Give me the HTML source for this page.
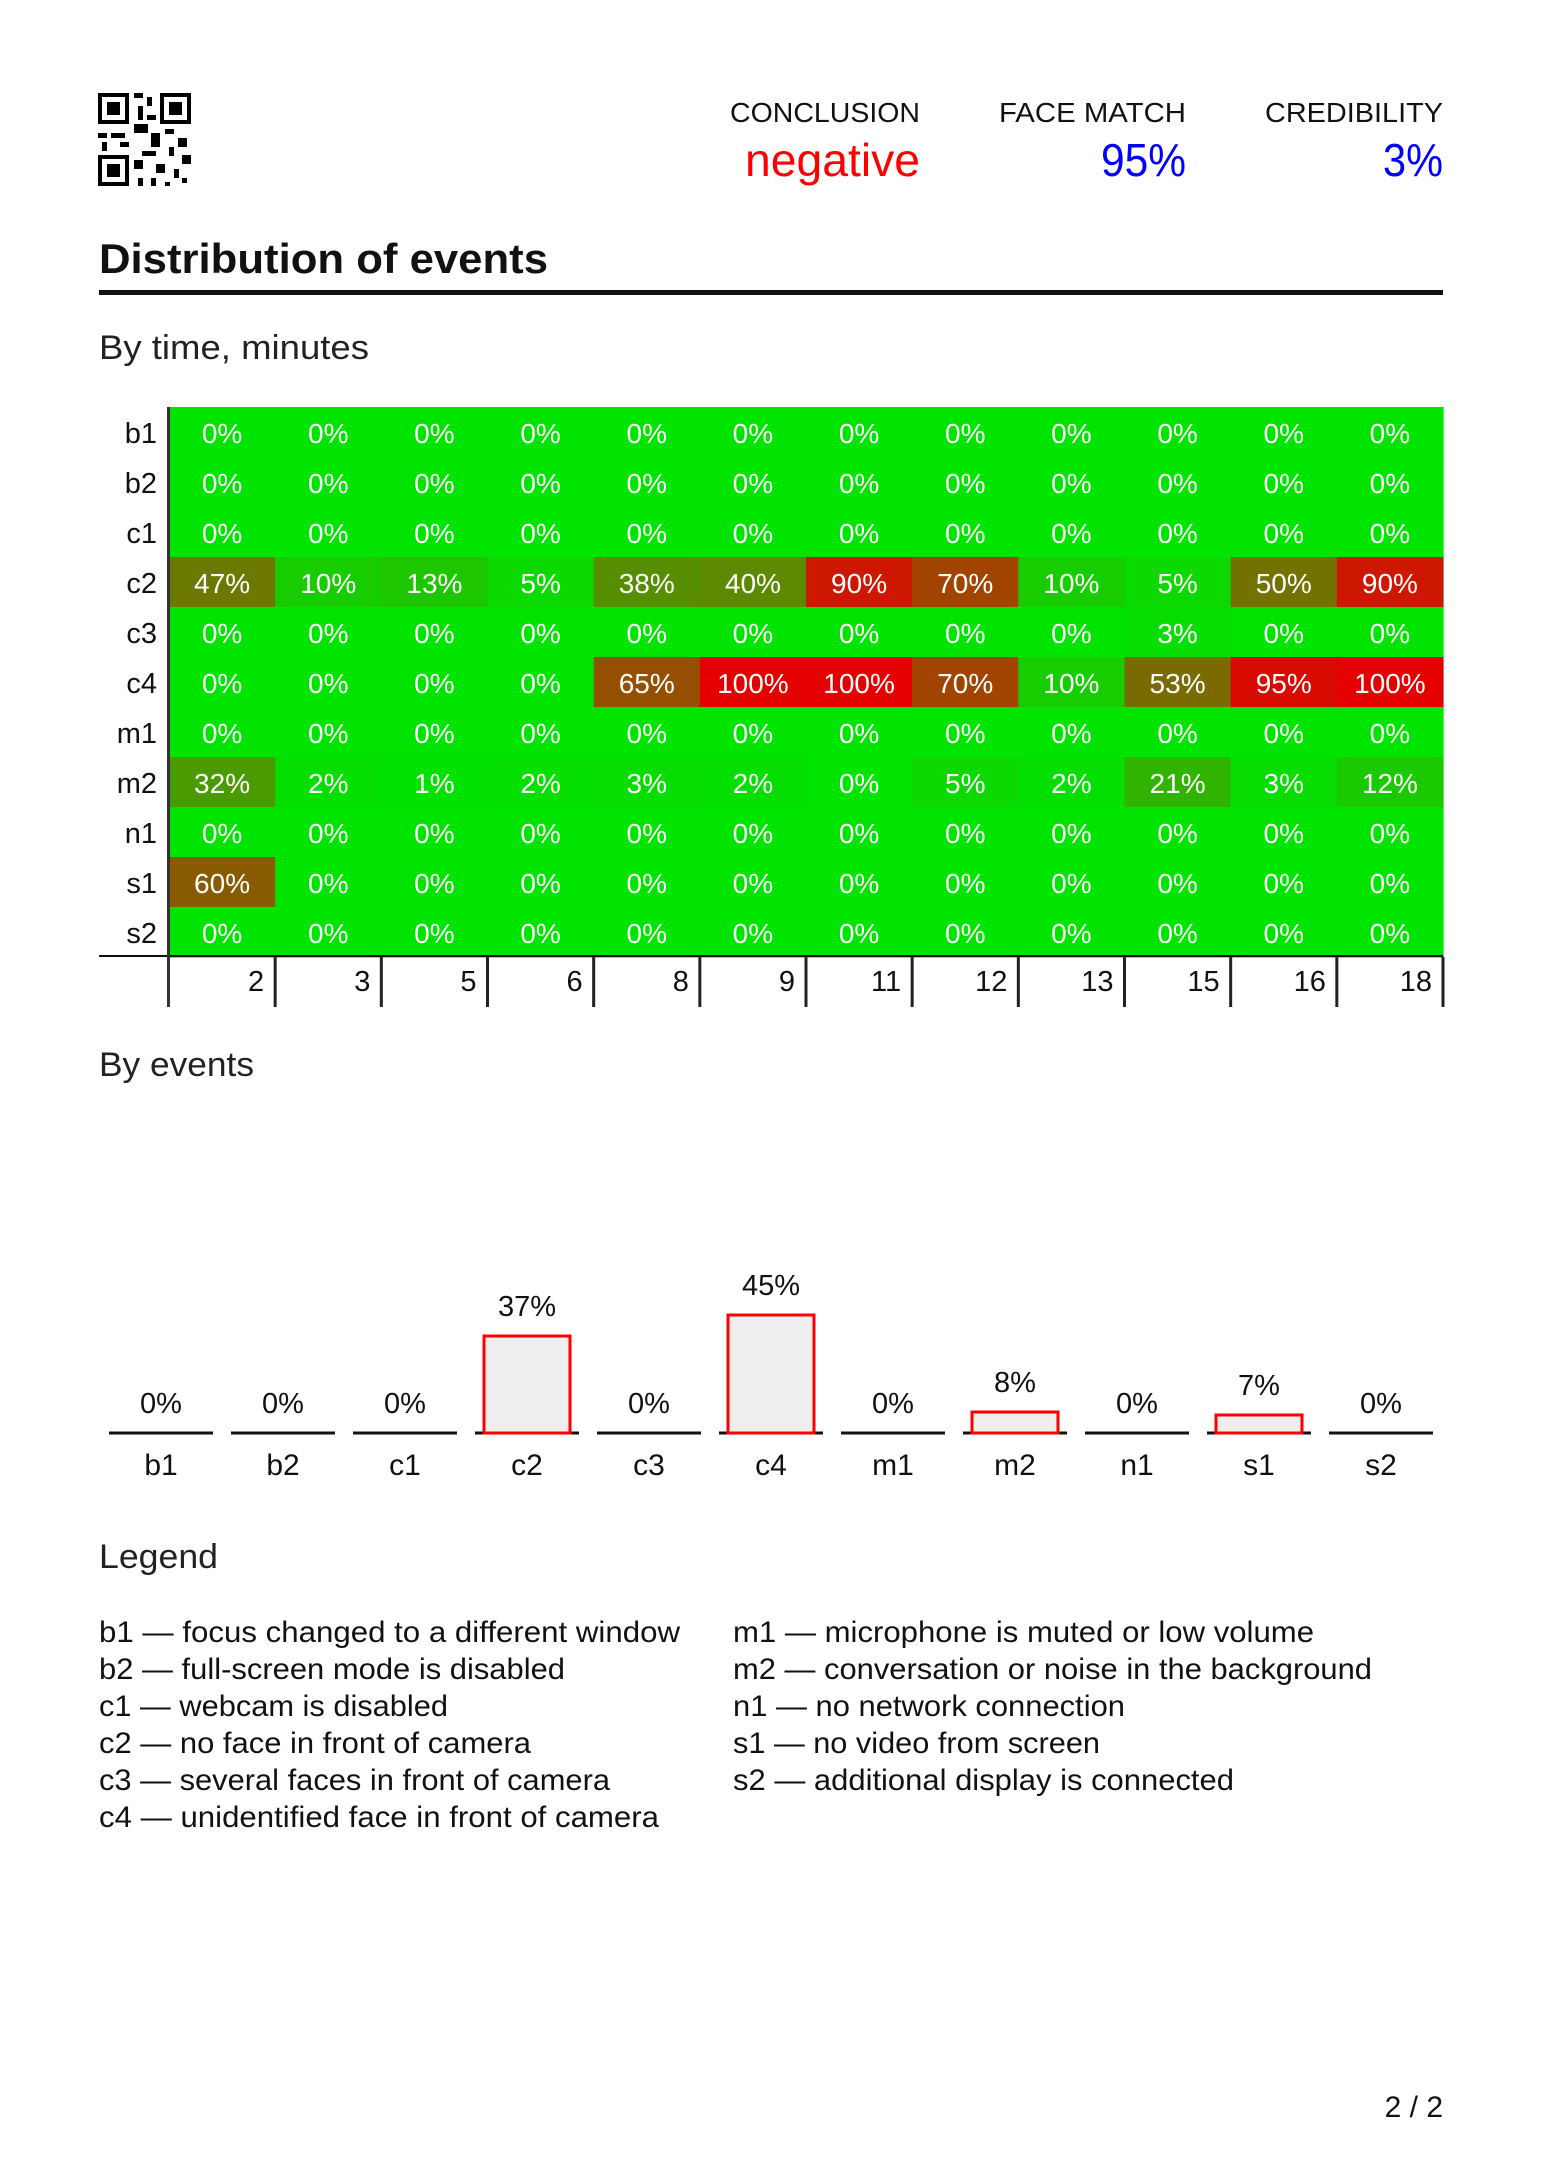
<!DOCTYPE html>
<html><head><meta charset="utf-8"><style>
html,body{margin:0;padding:0;background:#fff;}
svg{display:block;}
text{font-family:"Liberation Sans",sans-serif;}
</style></head><body>
<svg width="1542" height="2178" viewBox="0 0 1542 2178" xmlns="http://www.w3.org/2000/svg">
<rect width="1542" height="2178" fill="#fff"/>
<!-- QR -->
<g fill="#000">
<rect x="98" y="93" width="31" height="31"/><rect x="102" y="97" width="23" height="23" fill="#fff"/><rect x="107" y="102" width="13" height="13"/>
<rect x="160" y="93" width="31" height="31"/><rect x="164" y="97" width="23" height="23" fill="#fff"/><rect x="169" y="102" width="13" height="13"/>
<rect x="98" y="155" width="31" height="31"/><rect x="102" y="159" width="23" height="23" fill="#fff"/><rect x="107" y="164" width="13" height="13"/>
<rect x="134" y="93" width="9" height="5"/><rect x="147" y="97" width="5" height="9"/><rect x="138" y="106" width="5" height="14"/><rect x="147" y="115" width="9" height="5"/>
<rect x="134" y="124" width="14" height="9"/><rect x="98" y="133" width="9" height="5"/><rect x="111" y="133" width="14" height="5"/><rect x="120" y="142" width="9" height="5"/>
<rect x="102" y="142" width="5" height="9"/><rect x="151" y="133" width="9" height="14"/><rect x="165" y="129" width="9" height="5"/><rect x="178" y="138" width="9" height="9"/>
<rect x="169" y="147" width="5" height="9"/><rect x="182" y="155" width="9" height="9"/><rect x="142" y="151" width="14" height="5"/><rect x="134" y="160" width="9" height="9"/>
<rect x="156" y="164" width="9" height="9"/><rect x="174" y="169" width="5" height="9"/><rect x="138" y="178" width="5" height="8"/><rect x="151" y="178" width="5" height="8"/><rect x="165" y="182" width="5" height="4"/><rect x="182" y="178" width="5" height="5"/>
</g>
<!-- header -->
<g font-size="28" fill="#111" text-anchor="end">
<text x="920" y="122" textLength="190" lengthAdjust="spacingAndGlyphs">CONCLUSION</text>
<text x="1186" y="122" textLength="187" lengthAdjust="spacingAndGlyphs">FACE MATCH</text>
<text x="1443" y="122" textLength="178" lengthAdjust="spacingAndGlyphs">CREDIBILITY</text>
</g>
<g font-size="46" text-anchor="end">
<text x="920" y="176" fill="#ff0000" textLength="175" lengthAdjust="spacingAndGlyphs">negative</text>
<text x="1186" y="176" fill="#0000ff" textLength="85" lengthAdjust="spacingAndGlyphs">95%</text>
<text x="1443" y="176" fill="#0000ff" textLength="60" lengthAdjust="spacingAndGlyphs">3%</text>
</g>
<text x="99" y="273" font-size="42" font-weight="bold" fill="#111" textLength="449" lengthAdjust="spacingAndGlyphs">Distribution of events</text>
<rect x="99" y="290" width="1344" height="5" fill="#111"/>
<text x="99" y="359" font-size="34" fill="#222" textLength="270" lengthAdjust="spacingAndGlyphs">By time, minutes</text>
<!-- heatmap -->
<g id="hm"></g>
<text x="99" y="1076" font-size="34" fill="#222" textLength="155" lengthAdjust="spacingAndGlyphs">By events</text>
<g id="bars"></g>
<text x="99" y="1568" font-size="34" fill="#222" textLength="119" lengthAdjust="spacingAndGlyphs">Legend</text>
<g font-size="30" fill="#111">
<text x="99" y="1642" textLength="581" lengthAdjust="spacingAndGlyphs">b1 — focus changed to a different window</text>
<text x="99" y="1679" textLength="466" lengthAdjust="spacingAndGlyphs">b2 — full-screen mode is disabled</text>
<text x="99" y="1716" textLength="349" lengthAdjust="spacingAndGlyphs">c1 — webcam is disabled</text>
<text x="99" y="1753" textLength="432" lengthAdjust="spacingAndGlyphs">c2 — no face in front of camera</text>
<text x="99" y="1790" textLength="511" lengthAdjust="spacingAndGlyphs">c3 — several faces in front of camera</text>
<text x="99" y="1827" textLength="560" lengthAdjust="spacingAndGlyphs">c4 — unidentified face in front of camera</text>
<text x="733" y="1642" textLength="581" lengthAdjust="spacingAndGlyphs">m1 — microphone is muted or low volume</text>
<text x="733" y="1679" textLength="639" lengthAdjust="spacingAndGlyphs">m2 — conversation or noise in the background</text>
<text x="733" y="1716" textLength="392" lengthAdjust="spacingAndGlyphs">n1 — no network connection</text>
<text x="733" y="1753" textLength="367" lengthAdjust="spacingAndGlyphs">s1 — no video from screen</text>
<text x="733" y="1790" textLength="501" lengthAdjust="spacingAndGlyphs">s2 — additional display is connected</text>
</g>
<text x="1443" y="2117" font-size="30" fill="#111" text-anchor="end">2 / 2</text>
</svg>
<script>
(function(){
var NS="http://www.w3.org/2000/svg";
function el(p,t,a,txt){var e=document.createElementNS(NS,t);for(var k in a)e.setAttribute(k,a[k]);if(txt!=null)e.textContent=txt;p.appendChild(e);return e;}
var hm=document.getElementById("hm");
var rows=["b1","b2","c1","c2","c3","c4","m1","m2","n1","s1","s2"];
var z=[0,0,0,0,0,0,0,0,0,0,0,0];
var data={b1:z,b2:z,c1:z,c2:[47,10,13,5,38,40,90,70,10,5,50,90],c3:[0,0,0,0,0,0,0,0,0,3,0,0],
c4:[0,0,0,0,65,100,100,70,10,53,95,100],m1:z,m2:[32,2,1,2,3,2,0,5,2,21,3,12],n1:z,s1:[60,0,0,0,0,0,0,0,0,0,0,0],s2:z};
var x0=169,y0=407,cw=(1443-169)/12,rh=50;
rows.forEach(function(r,i){
 var y=y0+i*rh;
 el(hm,"text",{x:157,y:y+36,"font-size":29,fill:"#111","text-anchor":"end"},r);
 data[r].forEach(function(v,j){
  var p=v/100,R=Math.round(228*p),G=Math.round(228*(1-p));
  el(hm,"rect",{x:x0+j*cw,y:y,width:cw+0.6,height:rh+0.6,fill:"rgb("+R+","+G+",0)"});
  el(hm,"text",{x:x0+j*cw+cw/2,y:y+36,"font-size":28,fill:"#fff","text-anchor":"middle"},v+"%");
 });
});
el(hm,"rect",{x:99,y:955,width:1344,height:2,fill:"#111"});
el(hm,"rect",{x:167,y:407,width:3,height:600,fill:"#333"});
var labs=[2,3,5,6,8,9,11,12,13,15,16,18];
labs.forEach(function(l,j){
 var xb=x0+(j+1)*cw;
 el(hm,"rect",{x:xb-1.5,y:957,width:3,height:50,fill:"#222"});
 el(hm,"text",{x:xb-11,y:991,"font-size":29,fill:"#111","text-anchor":"end"},l);
});
var bars=document.getElementById("bars");
var vals=[0,0,0,37,0,45,0,8,0,7,0];
var hts=[0,0,0,97,0,118,0,21,0,18,0];
var base=1433;
rows.forEach(function(r,i){
 var c=161+i*122;
 el(bars,"rect",{x:c-52,y:base-1.5,width:104,height:3,fill:"#111"});
 if(hts[i]>0){
  el(bars,"rect",{x:c-43,y:base-hts[i],width:86,height:hts[i],fill:"#eeeeee",stroke:"#ff0000","stroke-width":3});
 }
 var ly=hts[i]>0?base-hts[i]-20:base-20;
 el(bars,"text",{x:c,y:ly,"font-size":29,fill:"#111","text-anchor":"middle"},vals[i]+"%");
 el(bars,"text",{x:c,y:1475,"font-size":30,fill:"#111","text-anchor":"middle"},r);
});
})();
</script>
</body></html>
